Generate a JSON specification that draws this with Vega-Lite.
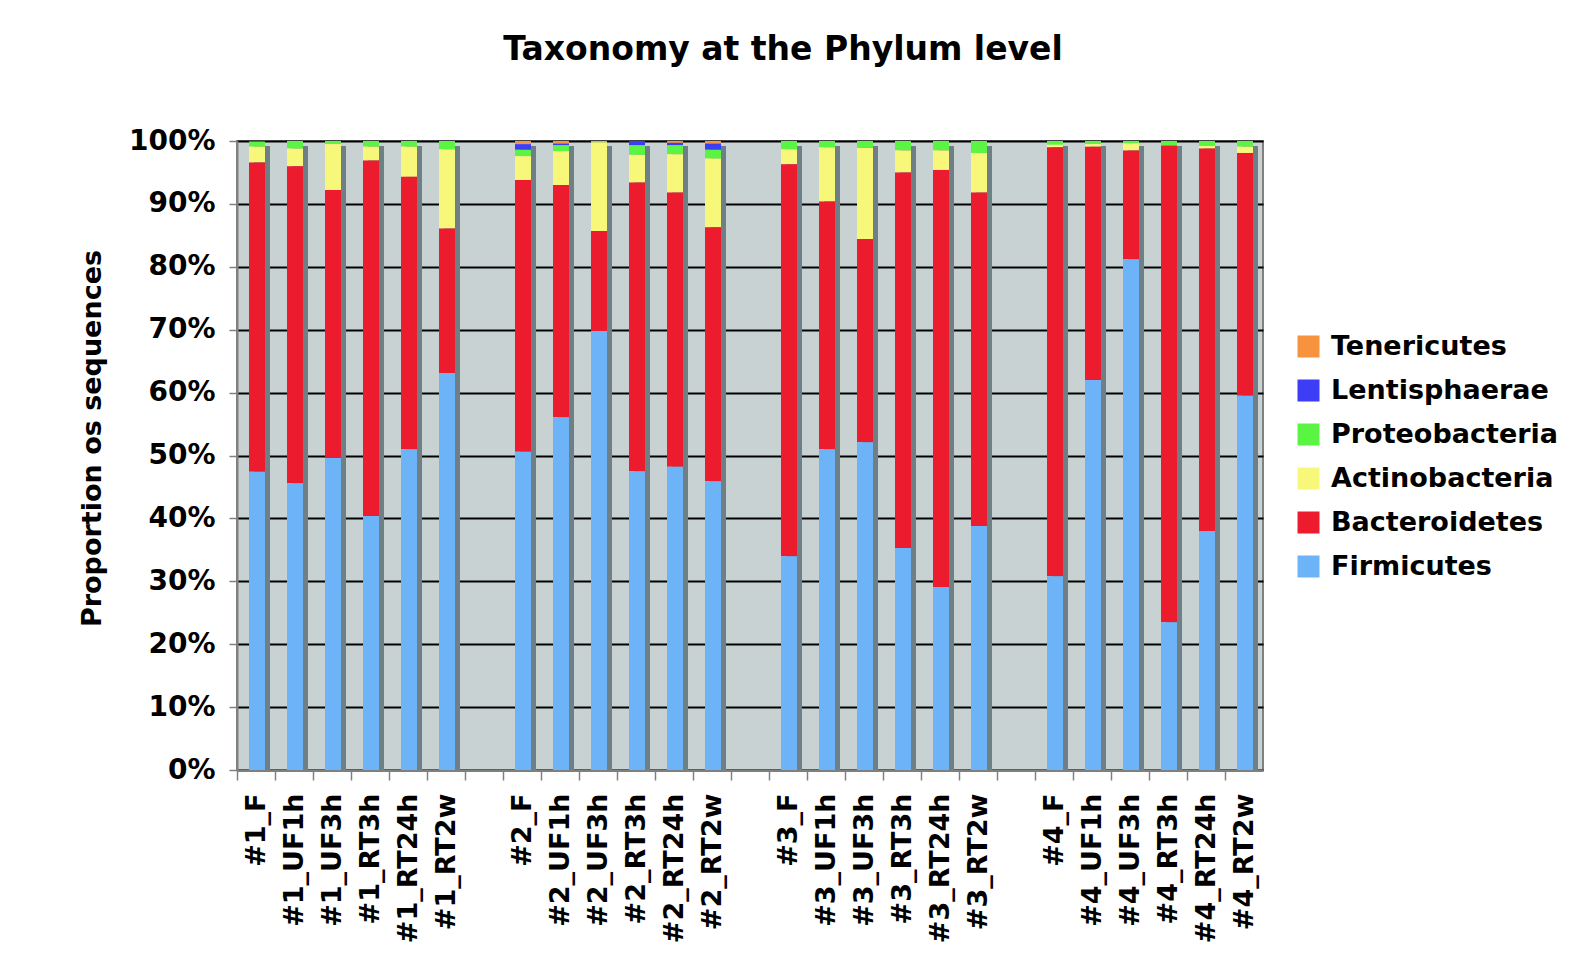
{
  "$schema": "https://vega.github.io/schema/vega-lite/v6.json",
  "autosize": {"type": "none"},
  "width": 1026,
  "height": 629,
  "padding": {"left": 237, "top": 141, "right": 305, "bottom": 198},
  "background": "white",
  "config": {
    "font": "DejaVu Sans",
    "view": {"fill": "#C8D2D2", "stroke": "#808080", "strokeWidth": 2}
  },
  "title": {
    "text": "Taxonomy at the Phylum level",
    "fontSize": 33,
    "fontWeight": "bold",
    "color": "black",
    "anchor": "middle",
    "frame": "group",
    "dx": 33,
    "baseline": "alphabetic",
    "offset": 34
  },
  "data": {
    "values": [
      {"sample": "#1_F", "Firmicutes": 47.4, "Bacteroidetes": 49.2, "Actinobacteria": 2.5, "Proteobacteria": 0.8, "Lentisphaerae": 0.1, "Tenericutes": 0},
      {"sample": "#1_UF1h", "Firmicutes": 45.6, "Bacteroidetes": 50.4, "Actinobacteria": 2.8, "Proteobacteria": 1.2, "Lentisphaerae": 0, "Tenericutes": 0},
      {"sample": "#1_UF3h", "Firmicutes": 49.6, "Bacteroidetes": 42.6, "Actinobacteria": 7.3, "Proteobacteria": 0.5, "Lentisphaerae": 0, "Tenericutes": 0},
      {"sample": "#1_RT3h", "Firmicutes": 40.4, "Bacteroidetes": 56.5, "Actinobacteria": 2.2, "Proteobacteria": 0.9, "Lentisphaerae": 0, "Tenericutes": 0},
      {"sample": "#1_RT24h", "Firmicutes": 51.0, "Bacteroidetes": 43.3, "Actinobacteria": 4.8, "Proteobacteria": 0.9, "Lentisphaerae": 0, "Tenericutes": 0},
      {"sample": "#1_RT2w", "Firmicutes": 63.1, "Bacteroidetes": 23.0, "Actinobacteria": 12.6, "Proteobacteria": 1.3, "Lentisphaerae": 0, "Tenericutes": 0},
      {"sample": "#2_F", "Firmicutes": 50.6, "Bacteroidetes": 43.2, "Actinobacteria": 3.8, "Proteobacteria": 1.0, "Lentisphaerae": 0.9, "Tenericutes": 0.5},
      {"sample": "#2_UF1h", "Firmicutes": 56.1, "Bacteroidetes": 36.9, "Actinobacteria": 5.4, "Proteobacteria": 0.9, "Lentisphaerae": 0.3, "Tenericutes": 0.4},
      {"sample": "#2_UF3h", "Firmicutes": 69.8, "Bacteroidetes": 15.9, "Actinobacteria": 14.1, "Proteobacteria": 0.2, "Lentisphaerae": 0, "Tenericutes": 0},
      {"sample": "#2_RT3h", "Firmicutes": 47.5, "Bacteroidetes": 45.9, "Actinobacteria": 4.4, "Proteobacteria": 1.5, "Lentisphaerae": 0.7, "Tenericutes": 0},
      {"sample": "#2_RT24h", "Firmicutes": 48.2, "Bacteroidetes": 43.6, "Actinobacteria": 6.1, "Proteobacteria": 1.4, "Lentisphaerae": 0.4, "Tenericutes": 0.3},
      {"sample": "#2_RT2w", "Firmicutes": 45.9, "Bacteroidetes": 40.4, "Actinobacteria": 10.9, "Proteobacteria": 1.4, "Lentisphaerae": 1.0, "Tenericutes": 0.4},
      {"sample": "#3_F", "Firmicutes": 34.0, "Bacteroidetes": 62.3, "Actinobacteria": 2.4, "Proteobacteria": 1.3, "Lentisphaerae": 0, "Tenericutes": 0},
      {"sample": "#3_UF1h", "Firmicutes": 51.0, "Bacteroidetes": 39.4, "Actinobacteria": 8.6, "Proteobacteria": 1.0, "Lentisphaerae": 0, "Tenericutes": 0},
      {"sample": "#3_UF3h", "Firmicutes": 52.1, "Bacteroidetes": 32.3, "Actinobacteria": 14.5, "Proteobacteria": 1.1, "Lentisphaerae": 0, "Tenericutes": 0},
      {"sample": "#3_RT3h", "Firmicutes": 35.3, "Bacteroidetes": 59.7, "Actinobacteria": 3.5, "Proteobacteria": 1.5, "Lentisphaerae": 0, "Tenericutes": 0},
      {"sample": "#3_RT24h", "Firmicutes": 29.1, "Bacteroidetes": 66.3, "Actinobacteria": 3.1, "Proteobacteria": 1.5, "Lentisphaerae": 0, "Tenericutes": 0},
      {"sample": "#3_RT2w", "Firmicutes": 38.8, "Bacteroidetes": 53.0, "Actinobacteria": 6.3, "Proteobacteria": 1.9, "Lentisphaerae": 0, "Tenericutes": 0},
      {"sample": "#4_F", "Firmicutes": 30.8, "Bacteroidetes": 68.2, "Actinobacteria": 0.4, "Proteobacteria": 0.6, "Lentisphaerae": 0, "Tenericutes": 0},
      {"sample": "#4_UF1h", "Firmicutes": 62.0, "Bacteroidetes": 37.1, "Actinobacteria": 0.4, "Proteobacteria": 0.5, "Lentisphaerae": 0, "Tenericutes": 0},
      {"sample": "#4_UF3h", "Firmicutes": 81.2, "Bacteroidetes": 17.3, "Actinobacteria": 1.1, "Proteobacteria": 0.4, "Lentisphaerae": 0, "Tenericutes": 0},
      {"sample": "#4_RT3h", "Firmicutes": 23.5, "Bacteroidetes": 75.8, "Actinobacteria": 0, "Proteobacteria": 0.7, "Lentisphaerae": 0, "Tenericutes": 0},
      {"sample": "#4_RT24h", "Firmicutes": 38.0, "Bacteroidetes": 60.8, "Actinobacteria": 0.4, "Proteobacteria": 0.8, "Lentisphaerae": 0, "Tenericutes": 0},
      {"sample": "#4_RT2w", "Firmicutes": 59.5, "Bacteroidetes": 38.6, "Actinobacteria": 1.0, "Proteobacteria": 0.9, "Lentisphaerae": 0, "Tenericutes": 0}
    ]
  },
  "transform": [
    {"fold": ["Tenericutes", "Lentisphaerae", "Proteobacteria", "Actinobacteria", "Bacteroidetes", "Firmicutes"], "as": ["phylum", "value"]},
    {"calculate": "indexof(['Firmicutes','Bacteroidetes','Actinobacteria','Proteobacteria','Lentisphaerae','Tenericutes'], datum.phylum)", "as": "stackOrder"}
  ],
  "encoding": {
    "x": {
      "field": "sample",
      "type": "nominal",
      "scale": {
        "domain": ["#1_F", "#1_UF1h", "#1_UF3h", "#1_RT3h", "#1_RT24h", "#1_RT2w", "gap1",
                   "#2_F", "#2_UF1h", "#2_UF3h", "#2_RT3h", "#2_RT24h", "#2_RT2w", "gap2",
                   "#3_F", "#3_UF1h", "#3_UF3h", "#3_RT3h", "#3_RT24h", "#3_RT2w", "gap3",
                   "#4_F", "#4_UF1h", "#4_UF3h", "#4_RT3h", "#4_RT24h", "#4_RT2w"],
        "paddingInner": 0,
        "paddingOuter": 0
      },
      "axis": {
        "title": null,
        "labelExpr": "indexof(datum.value, 'gap') == 0 ? '' : datum.value",
        "labelAngle": -90,
        "labelAlign": "right",
        "labelBaseline": "middle",
        "labelFontSize": 27,
        "labelFontWeight": "bold",
        "labelColor": "black",
        "labelPadding": 13,
        "labelOffset": 1,
        "bandPosition": 0,
        "tickSize": 10,
        "tickColor": "#808080",
        "tickWidth": 1.5,
        "domainColor": "#808080",
        "domainWidth": 2,
        "grid": false,
        "labelOverlap": false
      }
    }
  },
  "layer": [
    {
      "mark": {"type": "bar", "size": 16, "xOffset": 6, "yOffset": 5, "clip": true, "color": "#6F7F86"},
      "encoding": {
        "y": {"aggregate": "sum", "field": "value", "type": "quantitative", "scale": {"domain": [0, 100]}}
      }
    },
    {
      "mark": {"type": "bar", "size": 16, "xOffset": 1},
      "encoding": {
        "y": {
          "field": "value",
          "type": "quantitative",
          "stack": "zero",
          "scale": {"domain": [0, 100]},
          "axis": {
            "title": "Proportion os sequences",
            "titleFontSize": 27,
            "titleFontWeight": "bold",
            "titleColor": "black",
            "titleAngle": -90,
            "titleX": -137,
            "titleY": 297,
            "titleBaseline": "alphabetic",
            "values": [0, 10, 20, 30, 40, 50, 60, 70, 80, 90, 100],
            "labelExpr": "datum.value + '%'",
            "labelFontSize": 28,
            "labelFontWeight": "bold",
            "labelColor": "black",
            "labelPadding": 14,
            "tickSize": 8,
            "tickColor": "#808080",
            "tickWidth": 1.5,
            "domainColor": "#808080",
            "domainWidth": 2,
            "grid": true,
            "gridColor": "black",
            "gridWidth": 2
          }
        },
        "color": {
          "field": "phylum",
          "type": "nominal",
          "scale": {
            "domain": ["Tenericutes", "Lentisphaerae", "Proteobacteria", "Actinobacteria", "Bacteroidetes", "Firmicutes"],
            "range": ["#F7923F", "#3D3DF5", "#5AF542", "#F7F77A", "#ED1B2E", "#6CB4F7"]
          },
          "legend": {
            "title": null,
            "orient": "none",
            "legendX": 1058,
            "legendY": 192,
            "symbolType": "square",
            "symbolSize": 484,
            "symbolStrokeWidth": 0,
            "symbolOpacity": 1,
            "labelFontSize": 27,
            "labelFontWeight": "bold",
            "labelColor": "black",
            "labelOffset": 9,
            "rowPadding": 16,
            "labelLimit": 400
          }
        },
        "order": {"field": "stackOrder", "type": "quantitative"}
      }
    }
  ]
}
